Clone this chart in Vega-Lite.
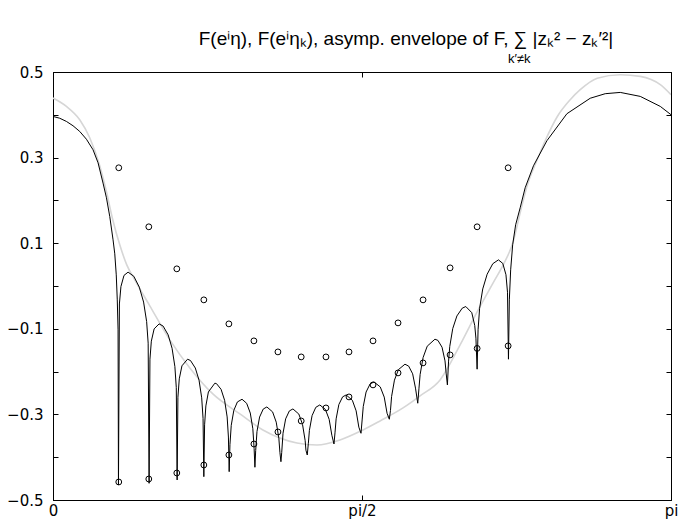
{
  "$schema": "https://vega.github.io/schema/vega-lite/v6.json",
  "width": 618,
  "height": 428,
  "autosize": {"type": "none"},
  "padding": {"left": 53, "top": 72, "right": 17, "bottom": 21},
  "background": "white",
  "view": {"stroke": "black", "strokeWidth": 1},
  "title": {
    "text": "F(eⁱη), F(eⁱηₖ), asymp. envelope of F, ∑ |zₖ² − zₖ′²|",
    "font": "Liberation Sans",
    "fontSize": 19,
    "fontWeight": "normal",
    "color": "black",
    "anchor": "middle",
    "dx": 44,
    "offset": 4
  },
  "config": {
    "axis": {
      "labelFont": "DejaVu Sans",
      "labelFontSize": 15,
      "labelColor": "black",
      "tickColor": "black",
      "domainColor": "black",
      "grid": false,
      "labelFlush": false,
      "labelOverlap": false,
      "title": null
    }
  },
  "datasets": {
    "curve": [
      {"x": 0.0, "y": 0.3962}, {"x": 0.0341, "y": 0.392}, {"x": 0.0682, "y": 0.3845}, {"x": 0.1018, "y": 0.3744},
      {"x": 0.1359, "y": 0.3611}, {"x": 0.17, "y": 0.3429}, {"x": 0.2035, "y": 0.3183}, {"x": 0.229, "y": 0.2879},
      {"x": 0.2544, "y": 0.2405}, {"x": 0.2717, "y": 0.2061}, {"x": 0.2885, "y": 0.1624}, {"x": 0.3053, "y": 0.1079},
      {"x": 0.314, "y": 0.0752}, {"x": 0.3216, "y": 0.0261}, {"x": 0.3267, "y": -0.0324}, {"x": 0.3308, "y": -0.1025},
      {"x": 0.3328, "y": -0.4649},
      {"x": 0.3375, "y": -0.042}, {"x": 0.3453, "y": -0.0013}, {"x": 0.3608, "y": 0.0247}, {"x": 0.3816, "y": 0.0324},
      {"x": 0.4106, "y": 0.0228}, {"x": 0.4387, "y": -0.0027}, {"x": 0.4605, "y": -0.0375}, {"x": 0.476, "y": -0.0831},
      {"x": 0.4838, "y": -0.1336}, {"x": 0.4885, "y": -0.461},
      {"x": 0.4928, "y": -0.171}, {"x": 0.4999, "y": -0.1289}, {"x": 0.5141, "y": -0.1002}, {"x": 0.5394, "y": -0.0885},
      {"x": 0.5597, "y": -0.0936}, {"x": 0.5854, "y": -0.1142}, {"x": 0.6053, "y": -0.1455}, {"x": 0.6196, "y": -0.1883},
      {"x": 0.6267, "y": -0.2374}, {"x": 0.631, "y": -0.4532},
      {"x": 0.635, "y": -0.2599}, {"x": 0.6419, "y": -0.2169}, {"x": 0.6555, "y": -0.1865}, {"x": 0.6839, "y": -0.171},
      {"x": 0.6989, "y": -0.1741}, {"x": 0.7234, "y": -0.1916}, {"x": 0.7424, "y": -0.2201}, {"x": 0.7559, "y": -0.2613},
      {"x": 0.7628, "y": -0.3094}, {"x": 0.7668, "y": -0.4455},
      {"x": 0.7707, "y": -0.3244}, {"x": 0.7771, "y": -0.2802}, {"x": 0.79, "y": -0.2475}, {"x": 0.8228, "y": -0.2271},
      {"x": 0.8312, "y": -0.2281}, {"x": 0.8544, "y": -0.2414}, {"x": 0.8724, "y": -0.2671}, {"x": 0.8853, "y": -0.3059},
      {"x": 0.8917, "y": -0.3529}, {"x": 0.8956, "y": -0.4338},
      {"x": 0.8995, "y": -0.3707}, {"x": 0.9061, "y": -0.3256}, {"x": 0.9191, "y": -0.2907}, {"x": 0.9374, "y": -0.2709},
      {"x": 0.961, "y": -0.2646}, {"x": 0.9845, "y": -0.2741}, {"x": 1.0028, "y": -0.2968}, {"x": 1.0159, "y": -0.3335},
      {"x": 1.0224, "y": -0.3796}, {"x": 1.0264, "y": -0.4235},
      {"x": 1.0303, "y": -0.3847}, {"x": 1.0369, "y": -0.3401}, {"x": 1.0502, "y": -0.3062}, {"x": 1.0687, "y": -0.2875},
      {"x": 1.0872, "y": -0.2826}, {"x": 1.1163, "y": -0.2942}, {"x": 1.1348, "y": -0.3181}, {"x": 1.1481, "y": -0.3557},
      {"x": 1.1534, "y": -0.3885}, {"x": 1.1587, "y": -0.4105},
      {"x": 1.1627, "y": -0.3887}, {"x": 1.1693, "y": -0.3441}, {"x": 1.1827, "y": -0.3104}, {"x": 1.2015, "y": -0.2919},
      {"x": 1.2197, "y": -0.2872}, {"x": 1.2496, "y": -0.2992}, {"x": 1.2684, "y": -0.3232}, {"x": 1.2818, "y": -0.3611},
      {"x": 1.2858, "y": -0.3836}, {"x": 1.2925, "y": -0.3948},
      {"x": 1.2979, "y": -0.3686}, {"x": 1.3034, "y": -0.3373}, {"x": 1.317, "y": -0.3029}, {"x": 1.3359, "y": -0.2835},
      {"x": 1.3563, "y": -0.2779}, {"x": 1.3849, "y": -0.2884}, {"x": 1.4039, "y": -0.3116}, {"x": 1.4175, "y": -0.3487},
      {"x": 1.4283, "y": -0.3691},
      {"x": 1.4338, "y": -0.3415}, {"x": 1.4393, "y": -0.3104}, {"x": 1.4531, "y": -0.277}, {"x": 1.4723, "y": -0.259},
      {"x": 1.4902, "y": -0.2545}, {"x": 1.5218, "y": -0.2671}, {"x": 1.541, "y": -0.2917}, {"x": 1.5547, "y": -0.3298},
      {"x": 1.5657, "y": -0.3441},
      {"x": 1.5715, "y": -0.313}, {"x": 1.5772, "y": -0.2816}, {"x": 1.5916, "y": -0.2477}, {"x": 1.6118, "y": -0.229},
      {"x": 1.632, "y": -0.2241}, {"x": 1.6636, "y": -0.2358}, {"x": 1.6838, "y": -0.2596}, {"x": 1.6982, "y": -0.2973},
      {"x": 1.7097, "y": -0.3113},
      {"x": 1.7155, "y": -0.291}, {"x": 1.7213, "y": -0.258}, {"x": 1.7357, "y": -0.2199}, {"x": 1.756, "y": -0.1954},
      {"x": 1.7892, "y": -0.1827}, {"x": 1.808, "y": -0.1872}, {"x": 1.8283, "y": -0.2052}, {"x": 1.8427, "y": -0.2386},
      {"x": 1.8542, "y": -0.2739},
      {"x": 1.8602, "y": -0.2402}, {"x": 1.8663, "y": -0.2066}, {"x": 1.8814, "y": -0.1671}, {"x": 1.9024, "y": -0.1406},
      {"x": 1.9416, "y": -0.1243}, {"x": 1.9567, "y": -0.1271}, {"x": 1.9777, "y": -0.143}, {"x": 1.9928, "y": -0.175},
      {"x": 1.9989, "y": -0.2054}, {"x": 2.0049, "y": -0.2311},
      {"x": 2.0109, "y": -0.1755}, {"x": 2.017, "y": -0.1411}, {"x": 2.0321, "y": -0.0995}, {"x": 2.0532, "y": -0.07},
      {"x": 2.0804, "y": -0.0518}, {"x": 2.0985, "y": -0.048}, {"x": 2.1288, "y": -0.0623}, {"x": 2.1439, "y": -0.0922},
      {"x": 2.1499, "y": -0.1219}, {"x": 2.156, "y": -0.1944},
      {"x": 2.1608, "y": -0.1023}, {"x": 2.1687, "y": -0.052}, {"x": 2.1846, "y": -0.0069}, {"x": 2.207, "y": 0.0275},
      {"x": 2.2356, "y": 0.052}, {"x": 2.2643, "y": 0.0611}, {"x": 2.2866, "y": 0.0527}, {"x": 2.3026, "y": 0.0263},
      {"x": 2.3105, "y": -0.0146}, {"x": 2.3153, "y": -0.171},
      {"x": 2.3198, "y": -0.0324}, {"x": 2.3265, "y": 0.0378}, {"x": 2.3367, "y": 0.0962}, {"x": 2.3519, "y": 0.143},
      {"x": 2.3748, "y": 0.1827}, {"x": 2.4002, "y": 0.2295}, {"x": 2.4425, "y": 0.2809}, {"x": 2.5107, "y": 0.3394},
      {"x": 2.6124, "y": 0.4025}, {"x": 2.731, "y": 0.4387}, {"x": 2.8073, "y": 0.4493}, {"x": 2.8837, "y": 0.4523},
      {"x": 2.9854, "y": 0.443}, {"x": 3.0872, "y": 0.4196}, {"x": 3.1416, "y": 0.4002}
    ],
    "envelope": [
      {"x": 0.0, "y": 0.4392}, {"x": 0.0682, "y": 0.4196}, {"x": 0.1359, "y": 0.3885}, {"x": 0.1867, "y": 0.3464},
      {"x": 0.2376, "y": 0.2809}, {"x": 0.2717, "y": 0.2201}, {"x": 0.3038, "y": 0.1547}, {"x": 0.3394, "y": 0.0962},
      {"x": 0.375, "y": 0.0494}, {"x": 0.4157, "y": 0.0144}, {"x": 0.4921, "y": -0.0464}, {"x": 0.5938, "y": -0.1259},
      {"x": 0.6956, "y": -0.1914}, {"x": 0.8126, "y": -0.2522}, {"x": 0.95, "y": -0.2989}, {"x": 1.0671, "y": -0.3363},
      {"x": 1.2401, "y": -0.3667}, {"x": 1.3418, "y": -0.3714}, {"x": 1.4589, "y": -0.3597}, {"x": 1.5759, "y": -0.3363},
      {"x": 1.6624, "y": -0.3153}, {"x": 1.7795, "y": -0.2849}, {"x": 1.866, "y": -0.2568}, {"x": 1.9677, "y": -0.2194},
      {"x": 2.0695, "y": -0.1376}, {"x": 2.156, "y": -0.0604}, {"x": 2.2374, "y": 0.0074}, {"x": 2.2883, "y": 0.0494},
      {"x": 2.3392, "y": 0.1032}, {"x": 2.3748, "y": 0.171}, {"x": 2.4104, "y": 0.2342}, {"x": 2.4613, "y": 0.2949},
      {"x": 2.502, "y": 0.3394}, {"x": 2.5631, "y": 0.3955}, {"x": 2.6292, "y": 0.4352}, {"x": 2.6801, "y": 0.4586},
      {"x": 2.7666, "y": 0.4855}, {"x": 2.8837, "y": 0.4937}, {"x": 2.9854, "y": 0.4897}, {"x": 3.0872, "y": 0.4703},
      {"x": 3.1416, "y": 0.4469}
    ],
    "zeros": [
      {"x": 0.3343, "fk": -0.4579, "sum": 0.2762}, {"x": 0.487, "fk": -0.4509, "sum": 0.1383},
      {"x": 0.6294, "fk": -0.4369, "sum": 0.0401}, {"x": 0.7668, "fk": -0.4182, "sum": -0.0324},
      {"x": 0.8941, "fk": -0.3948, "sum": -0.0885}, {"x": 1.0213, "fk": -0.3691, "sum": -0.1282},
      {"x": 1.1434, "fk": -0.341, "sum": -0.154}, {"x": 1.2617, "fk": -0.3153, "sum": -0.1657},
      {"x": 1.3876, "fk": -0.2849, "sum": -0.1657}, {"x": 1.5047, "fk": -0.2592, "sum": -0.154},
      {"x": 1.6268, "fk": -0.2311, "sum": -0.1282}, {"x": 1.754, "fk": -0.2031, "sum": -0.0862},
      {"x": 1.8812, "fk": -0.1797, "sum": -0.0324}, {"x": 2.0186, "fk": -0.161, "sum": 0.0424},
      {"x": 2.156, "fk": -0.1458, "sum": 0.1383}, {"x": 2.3137, "fk": -0.1399, "sum": 0.2762}
    ]
  },
  "layer": [
    {
      "data": {"name": "envelope"},
      "mark": {"type": "line", "color": "#d6d6d6", "strokeWidth": 1.6, "interpolate": "monotone", "clip": true},
      "encoding": {
        "x": {"field": "x", "type": "quantitative",
              "scale": {"domain": [0, 3.14159265], "nice": false, "zero": false},
              "axis": {"orient": "bottom", "values": [0, 1.5707963, 3.14159265], "tickSize": -5, "labelPadding": 8,
                       "labelExpr": "datum.value < 0.1 ? '0' : (datum.value < 2 ? 'pi/2' : 'pi')"}},
        "y": {"field": "y", "type": "quantitative",
              "scale": {"domain": [-0.5, 0.5], "nice": false, "zero": false},
              "axis": {"orient": "left", "values": [-0.5, -0.4, -0.3, -0.2, -0.1, 0, 0.1, 0.2, 0.3, 0.4, 0.5],
                       "tickSize": -5, "labelPadding": 15,
                       "labelExpr": "abs(round(datum.value * 10)) % 2 == 1 ? format(datum.value, '.1f') : ''"}}
      }
    },
    {
      "data": {"name": "curve"},
      "mark": {"type": "line", "color": "black", "strokeWidth": 1, "clip": true},
      "encoding": {
        "x": {"field": "x", "type": "quantitative",
              "axis": {"orient": "top", "values": [0, 1.5707963, 3.14159265], "tickSize": -5, "labels": false, "domain": false}},
        "y": {"field": "y", "type": "quantitative",
              "axis": {"orient": "right", "values": [-0.5, -0.4, -0.3, -0.2, -0.1, 0, 0.1, 0.2, 0.3, 0.4, 0.5],
                       "tickSize": -5, "labels": false, "domain": false}}
      }
    },
    {
      "data": {"name": "zeros"},
      "mark": {"type": "point", "shape": "circle", "filled": false, "color": "black", "size": 34, "strokeWidth": 1, "opacity": 1},
      "encoding": {
        "x": {"field": "x", "type": "quantitative", "axis": null},
        "y": {"field": "sum", "type": "quantitative", "axis": null}
      }
    },
    {
      "data": {"name": "zeros"},
      "mark": {"type": "point", "shape": "circle", "filled": false, "color": "black", "size": 34, "strokeWidth": 1, "opacity": 1},
      "encoding": {
        "x": {"field": "x", "type": "quantitative", "axis": null},
        "y": {"field": "fk", "type": "quantitative", "axis": null}
      }
    },
    {
      "data": {"values": [{"label": "k′≠k"}]},
      "mark": {"type": "text", "font": "Liberation Sans", "fontSize": 13, "color": "black", "clip": false, "baseline": "middle", "align": "center"},
      "encoding": {
        "text": {"field": "label", "type": "nominal"},
        "x": {"datum": 2.37, "type": "quantitative", "axis": null},
        "y": {"datum": 0.531, "type": "quantitative", "axis": null}
      }
    }
  ],
  "resolve": {"axis": {"x": "independent", "y": "independent"}}
}
